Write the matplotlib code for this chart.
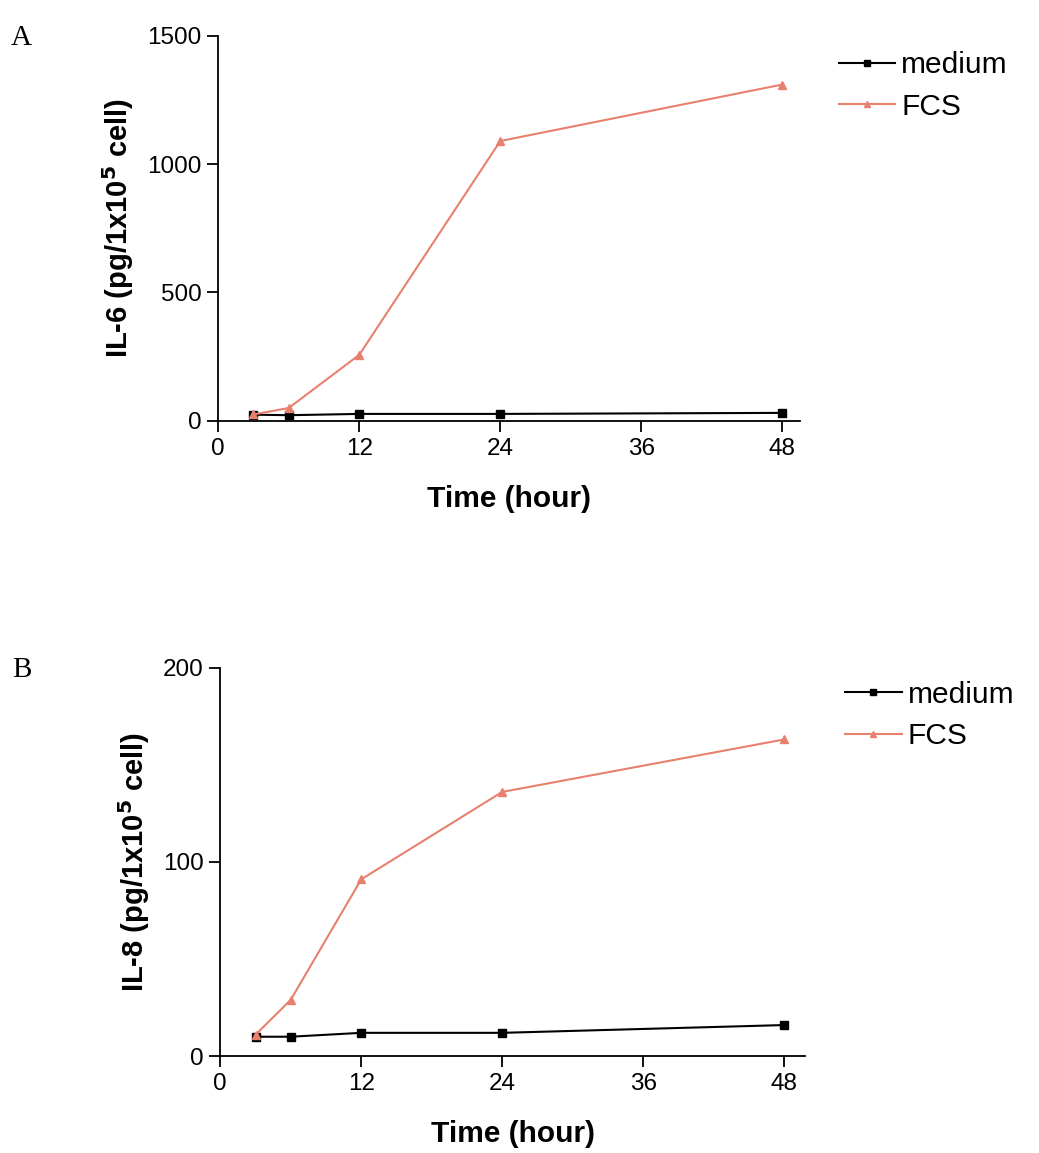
import matplotlib.pyplot as plt

plt.rc('font', family=['Liberation Sans', 'DejaVu Sans'], size=17)

horas = [3, 6, 12, 24, 48]

il6_medium = [24, 22, 27, 27, 31]
il6_fcs = [25, 50, 257, 1090, 1310]

il8_medium = [10, 10, 12, 12, 16]
il8_fcs = [11, 29, 91, 136, 163]

rojo = '#E8806E'

fig = plt.figure(figsize=(10.39, 11.53), dpi=100)

def panel(pos, medium, fcs, ymax, yticks, ylabel, letra, xmax, leg_x, leg_y):
    ax = fig.add_axes(pos)
    ax.plot(horas, medium, color='black', marker='s', markersize=6, lw=1.5, label='medium')
    ax.plot(horas, fcs, color=rojo, marker='^', markersize=6, lw=1.5, label='FCS')
    ax.set_xlim(0, xmax)
    ax.set_ylim(0, ymax)
    ax.set_xticks([0, 12, 24, 36, 48])
    ax.set_yticks(yticks)
    for s in ['top', 'right']:
        ax.spines[s].set_visible(False)
    for s in ['left', 'bottom']:
        ax.spines[s].set_linewidth(1.3)
    ax.tick_params(direction='out', length=8, width=1.3, labelsize=17.5, pad=4)
    ax.set_xlabel('Time (hour)', fontsize=21.5, fontweight='bold', labelpad=18)
    ax.set_ylabel(ylabel, fontsize=21, fontweight='bold', labelpad=8)
    ax.legend(loc='upper left', bbox_to_anchor=(leg_x, leg_y), frameon=False, fontsize=21.5,
              handlelength=1.9, handletextpad=0.2, labelspacing=0.45, markerscale=0.8)
    fig.text(pos[0] - 0.2, pos[1] + pos[3] - 0.008, letra, fontsize=21, family='Liberation Serif')
    return ax

panel([0.21, 0.635, 0.56, 0.334], il6_medium, il6_fcs, 1500, [0, 500, 1000, 1500],
      r'IL-6 (pg/1x10$^\mathbf{5}$ cell)', 'A', 49.5, 1.02, 1.03)
panel([0.212, 0.084, 0.563, 0.337], il8_medium, il8_fcs, 200, [0, 100, 200],
      r'IL-8 (pg/1x10$^\mathbf{5}$ cell)', 'B', 49.8, 1.022, 1.035)

fig.savefig('out.png', dpi=100)
